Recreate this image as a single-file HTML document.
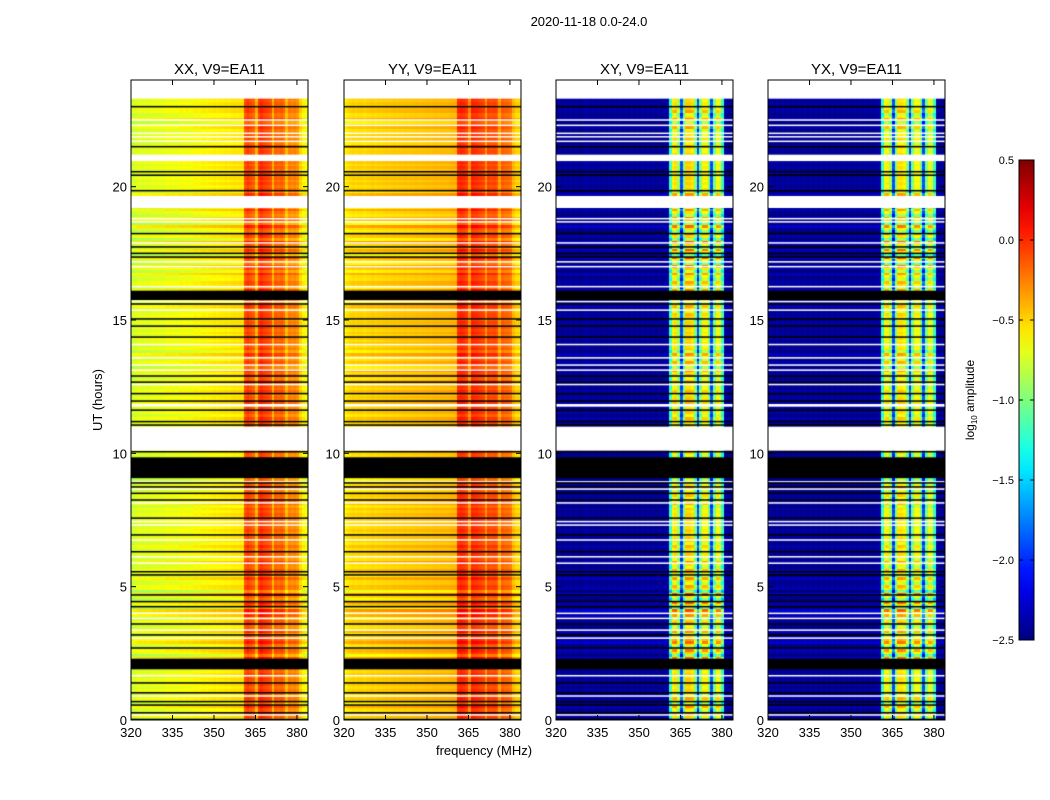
<!DOCTYPE html>
<html><head><meta charset="utf-8"><style>
body{margin:0;background:#fff;width:1050px;height:800px;overflow:hidden;position:relative;font-family:"Liberation Sans",sans-serif}
canvas{position:absolute}
svg{position:absolute;left:0;top:0}
</style></head><body>
<canvas id="c0" width="177" height="640" style="left:131px;top:80px"></canvas>
<canvas id="c1" width="177" height="640" style="left:344px;top:80px"></canvas>
<canvas id="c2" width="177" height="640" style="left:556px;top:80px"></canvas>
<canvas id="c3" width="177" height="640" style="left:768px;top:80px"></canvas>
<svg id="ov" width="1050" height="800"></svg>
<script>
// ---- data ----
const freqStart = 320, nChan = 64; // 1 MHz channels 320..383
const xxProfile = [-0.78,-0.74,-0.72,-0.7,-0.72,-0.7,-0.72,-0.7,-0.68,-0.7,-0.68,-0.7,-0.68,-0.66,-0.68,-0.66,-0.68,-0.66,-0.64,-0.66,-0.64,-0.66,-0.64,-0.62,-0.64,-0.62,-0.6,-0.62,-0.6,-0.6,-0.58,-0.6,-0.58,-0.58,-0.56,-0.58,-0.56,-0.55,-0.56,-0.55,-0.55,-0.1,-0.05,-0.1,-0.15,-0.4,-0.05,0.0,-0.05,-0.08,-0.12,-0.4,-0.15,-0.18,-0.15,-0.2,-0.42,-0.25,-0.28,-0.25,-0.3,-0.5,-0.6,-0.65];
const yyProfile = [-0.6,-0.55,-0.52,-0.5,-0.52,-0.5,-0.5,-0.52,-0.5,-0.5,-0.48,-0.5,-0.48,-0.49,-0.48,-0.47,-0.48,-0.47,-0.46,-0.47,-0.46,-0.46,-0.45,-0.46,-0.45,-0.45,-0.44,-0.45,-0.44,-0.44,-0.43,-0.44,-0.43,-0.42,-0.43,-0.42,-0.42,-0.42,-0.41,-0.4,-0.4,0.0,0.02,0.0,-0.05,-0.3,0.02,0.0,-0.02,-0.05,-0.08,-0.3,-0.08,-0.1,-0.08,-0.12,-0.35,-0.15,-0.18,-0.18,-0.22,-0.42,-0.5,-0.5];
const xyProfile = [-2.45,-2.4,-2.45,-2.4,-2.45,-2.4,-2.45,-2.4,-2.45,-2.45,-2.4,-2.4,-2.45,-2.4,-2.45,-2.4,-2.45,-2.4,-2.45,-2.4,-2.45,-2.4,-2.45,-2.4,-2.45,-2.4,-2.45,-2.4,-2.45,-2.4,-2.45,-2.4,-2.45,-2.4,-2.45,-2.4,-2.45,-2.4,-2.45,-2.4,-2.4,-1.2,-0.6,-0.55,-0.9,-1.9,-1.0,-0.5,-0.5,-0.55,-1.0,-1.9,-1.0,-0.6,-0.6,-1.0,-1.9,-1.0,-0.65,-0.7,-1.2,-2.4,-2.45,-2.45];
const yxProfile = [-2.45,-2.4,-2.45,-2.4,-2.45,-2.4,-2.45,-2.4,-2.45,-2.4,-2.45,-2.4,-2.45,-2.4,-2.45,-2.4,-2.45,-2.4,-2.45,-2.4,-2.45,-2.4,-2.45,-2.4,-2.45,-2.4,-2.45,-2.4,-2.45,-2.4,-2.45,-2.4,-2.45,-2.4,-2.45,-2.4,-2.45,-2.4,-2.45,-2.4,-2.4,-1.2,-0.65,-0.6,-0.9,-1.9,-1.0,-0.55,-0.55,-0.6,-1.0,-1.9,-1.0,-0.65,-0.65,-1.0,-1.9,-1.0,-0.7,-0.75,-1.2,-2.4,-2.45,-2.45];
const hourOffset = [0.05,0.0,0.08,-0.05,0.1,0.05,0.02,0.0,-0.03,0.05,0,0.02,-0.02,0.05,0.0,0.03,0.05,0.1,0.08,0.05,0,0.02,-0.05,0];
const whiteBands = [[23.3,24],[20.96,21.2],[19.2,19.65],[10.1,11.0],[11.75,11.85]];
const blackBands = [[15.75,16.1],[9.07,9.85],[1.9,2.3]];
const blackLines = [23.0,21.5,20.56,20.43,19.85,18.24,17.74,17.5,17.36,15.6,15.04,14.77,14.36,12.9,12.67,12.24,11.96,11.62,11.19,11.06,10.06,8.89,8.74,8.5,8.25,7.57,6.94,6.31,5.56,5.44,4.69,4.44,4.25,3.6,3.19,2.7,0.0,1.39,1.02,0.69,0.56,0.27,0.02];
const whiteLines = [22.5,22.3,22.0,21.87,21.7,18.8,18.68,17.89,17.18,17.0,16.25,15.69,15.37,14.08,13.58,13.31,13.12,12.58,8.93,8.66,8.14,7.44,7.31,6.75,6.12,5.88,4.0,3.81,3.37,3.07,2.17,1.66,0.9,0.19];
const titles = ["XX, V9=EA11","YY, V9=EA11","XY, V9=EA11","YX, V9=EA11"];
const profiles = [xxProfile,yyProfile,xyProfile,yxProfile];
const xTicks = [320,335,350,365,380];
const yTicks = [0,5,10,15,20];
const cbTicks = [0.5,0.0,-0.5,-1.0,-1.5,-2.0,-2.5];
const panelLefts = [131,344,556,768];
// ---- scales ----
const PW=177, PH=640, PT=80, FMAX=384, VMIN=-2.5, VMAX=0.5;
const xs = f => (f-freqStart)/(FMAX-freqStart)*PW;
const ys = h => PH - h/24*PH;
function jet(v){
  let t=(v-VMIN)/(VMAX-VMIN); t=Math.max(0,Math.min(1,t));
  const r=Math.max(0,Math.min(1,1.5-Math.abs(4*t-3)));
  const g=Math.max(0,Math.min(1,1.5-Math.abs(4*t-2)));
  const b=Math.max(0,Math.min(1,1.5-Math.abs(4*t-1)));
  return `rgb(${r*255|0},${g*255|0},${b*255|0})`;
}
profiles.forEach((prof,p)=>{
  const ctx=document.getElementById('c'+p).getContext('2d');
  ctx.fillStyle='#fff';ctx.fillRect(0,0,PW,PH);
  const cross=p>=2;
  for(let r=0;r<240;r++){
    const h=r/10;
    for(let c=0;c<nChan;c++){
      const v=prof[c]; if(v===null) continue;
      const inBand=v>-2.0;
      const off=hourOffset[Math.floor(h)]*((r%3)-1)*(cross&&inBand?4:1.5)+((r%2)?0.03:-0.03);
      ctx.fillStyle=jet(v+off);
      const x0=xs(freqStart+c), x1=xs(freqStart+c+1);
      ctx.fillRect(Math.floor(x0),Math.floor(ys(h+0.1)),Math.ceil(x1-x0)+1,Math.ceil(ys(h)-ys(h+0.1))+1);
    }
  }
  ctx.fillStyle='#fff';
  whiteBands.forEach(b=>ctx.fillRect(0,ys(b[1]),PW,ys(b[0])-ys(b[1])));
  whiteLines.forEach(l=>ctx.fillRect(0,ys(l)-0.75,PW,1.5));
  ctx.fillStyle='#000';
  blackBands.forEach(b=>ctx.fillRect(0,ys(b[1]),PW,ys(b[0])-ys(b[1])));
  blackLines.forEach(l=>ctx.fillRect(0,ys(l)-0.75,PW,1.5));
});
// ---- overlay ----
const ov=document.getElementById('ov'), NS='http://www.w3.org/2000/svg';
function mk(tag,attrs,txt){const e=document.createElementNS(NS,tag);for(const k in attrs)e.setAttribute(k,attrs[k]);if(txt!==undefined)e.textContent=txt;ov.appendChild(e);return e;}
let t=mk('text',{x:589,y:26,'font-size':13,'text-anchor':'middle'},'2020-11-18 0.0-24.0');


panelLefts.forEach((L,p)=>{
  let tt=mk('text',{x:L+PW/2,y:74,'font-size':15,'text-anchor':'middle'},titles[p]);
  
  
  let fr=mk('rect',{x:L,y:PT,width:PW,height:PH,fill:'none',stroke:'#000','stroke-width':1});
  
  
  xTicks.forEach(f=>{
    const x=L+xs(f);
    mk('line',{x1:x,x2:x,y1:PT+PH,y2:PT+PH-5,stroke:'#000'});
    mk('line',{x1:x,x2:x,y1:PT,y2:PT+5,stroke:'#000'});
    let tl=mk('text',{x:x,y:PT+PH+17,'font-size':13,'text-anchor':'middle'},String(f));
    
    
  });
  yTicks.forEach(h=>{
    const y=PT+ys(h);
    mk('line',{x1:L,x2:L+5,y1:y,y2:y,stroke:'#000'});
    mk('line',{x1:L+PW,x2:L+PW-5,y1:y,y2:y,stroke:'#000'});
    let tl=mk('text',{x:L-4,y:y+5,'font-size':13,'text-anchor':'end'},String(h));
    
    
  });
});
t=mk('text',{x:484,y:755,'font-size':13,'text-anchor':'middle'},'frequency (MHz)');


t=mk('text',{x:102,y:400,'font-size':13,'text-anchor':'middle',transform:'rotate(-90 102 400)'},'UT (hours)');


// colorbar
const defs=mk('defs',{});
const lg=document.createElementNS(NS,'linearGradient');lg.setAttribute('id','jg');lg.setAttribute('x1',0);lg.setAttribute('x2',0);lg.setAttribute('y1',1);lg.setAttribute('y2',0);defs.appendChild(lg);
for(let i=0;i<=20;i++){const s=document.createElementNS(NS,'stop');s.setAttribute('offset',i/20);s.setAttribute('stop-color',jet(VMIN+i/20*(VMAX-VMIN)));lg.appendChild(s);}
const CBX=1019,CBW=15,CBT=160,CBH=480;
t=mk('rect',{x:CBX,y:CBT,width:CBW,height:CBH,fill:'url(#jg)',stroke:'#000'});


cbTicks.forEach(v=>{
  const y=CBT+(VMAX-v)/(VMAX-VMIN)*CBH;
  mk('line',{x1:CBX,x2:CBX+4,y1:y,y2:y,stroke:'#000'});
  mk('line',{x1:CBX+CBW,x2:CBX+CBW-4,y1:y,y2:y,stroke:'#000'});
  let tl=mk('text',{x:1014,y:y+4,'font-size':11,'text-anchor':'end'},(v<0?'\u2212':'')+Math.abs(v).toFixed(1));
  
  
});
t=mk('text',{x:974,y:400,'font-size':12,'text-anchor':'middle',transform:'rotate(-90 974 400)'});
t.innerHTML='log<tspan font-size="8" dy="3">10</tspan><tspan dy="-3"> amplitude</tspan>';


</script>
</body></html>
